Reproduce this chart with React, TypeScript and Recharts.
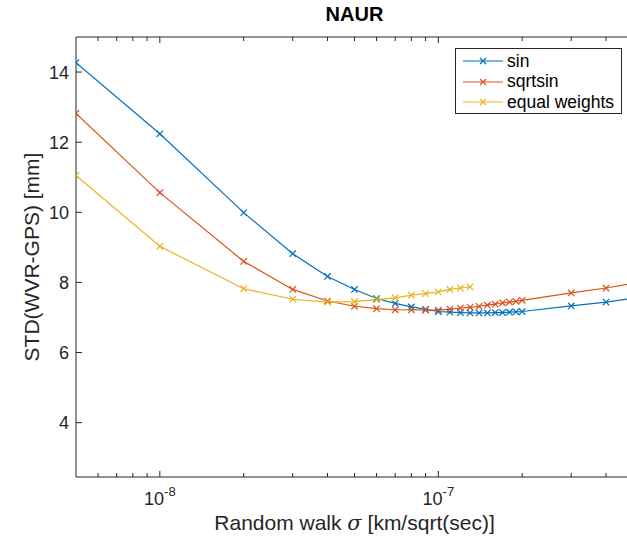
import { LineChart, Line, XAxis, YAxis, Legend } from "recharts";

const FONT = "'Liberation Sans', Arial, Helvetica, sans-serif";
const AXIS = "#262626";

// random walk sigma [km/sqrt(sec)]
const sigma = [
  5e-9, 1e-8, 2e-8, 3e-8, 4e-8, 5e-8, 6e-8, 7e-8, 8e-8, 9e-8, 1e-7, 1.1e-7, 1.2e-7,
  1.3e-7, 1.4e-7, 1.5e-7, 1.6e-7, 1.7e-7, 1.8e-7, 1.9e-7, 2e-7, 3e-7, 4e-7, 5e-7,
];
const sinStd = [
  14.27, 12.24, 9.99, 8.82, 8.17, 7.8, 7.54, 7.4, 7.3, 7.23, 7.17, 7.15, 7.14, 7.13,
  7.13, 7.13, 7.14, 7.14, 7.15, 7.16, 7.17, 7.33, 7.44, 7.55,
];
const sqrtsinStd = [
  12.82, 10.56, 8.6, 7.8, 7.47, 7.32, 7.25, 7.22, 7.22, 7.21, 7.21, 7.24, 7.27, 7.29,
  7.32, 7.35, 7.38, 7.42, 7.44, 7.46, 7.49, 7.7, 7.84, 7.97,
];
// equal weights stops at 1.3e-7
const equalStd = [11.05, 9.03, 7.82, 7.52, 7.44, 7.45, 7.51, 7.56, 7.64, 7.68, 7.73, 7.8, 7.84, 7.87];

const xTicks = [
  6e-9, 7e-9, 8e-9, 9e-9, 1e-8, 2e-8, 3e-8, 4e-8, 5e-8, 6e-8, 7e-8, 8e-8, 9e-8, 1e-7,
  2e-7, 3e-7, 4e-7, 5e-7,
];
const xLabeled: Record<string, string> = { "1e-8": "-8", "1e-7": "-7" };
const yTicks = [4, 6, 8, 10, 12, 14];

const series = [
  { name: "sin", color: "#0072BD", values: sinStd },
  { name: "sqrtsin", color: "#D95319", values: sqrtsinStd },
  { name: "equal weights", color: "#EDB120", values: equalStd },
];

const toRows = (vals: number[]) => vals.map((v, i) => ({ x: sigma[i], y: v }));

const keyOf = (v: number) => v.toExponential().replace("+", "");

const XMark = (props: any) => {
  const { cx, cy, stroke } = props;
  if (cx == null || cy == null) return null;
  const s = 3.2;
  return (
    <path
      d={`M${cx - s},${cy - s}L${cx + s},${cy + s}M${cx - s},${cy + s}L${cx + s},${cy - s}`}
      stroke={stroke}
      strokeWidth={1.2}
      fill="none"
    />
  );
};

const BottomTick = (props: any) => {
  const { x, y, payload } = props;
  const exp = xLabeled[keyOf(payload.value)];
  const len = exp ? 6 : 4;
  return (
    <g>
      <line x1={x} x2={x} y1={y} y2={y - len} stroke={AXIS} />
      {exp && (
        <text x={x} y={y + 28} textAnchor="middle" fill={AXIS} fontFamily={FONT} fontSize={18}>
          10
          <tspan dy={-9} fontSize={13}>
            {exp}
          </tspan>
        </text>
      )}
    </g>
  );
};

const TopTick = (props: any) => {
  const { x, y, payload } = props;
  const len = xLabeled[keyOf(payload.value)] ? 6 : 4;
  return <line x1={x} x2={x} y1={y} y2={y + len} stroke={AXIS} />;
};

const LeftTick = (props: any) => {
  const { x, y, payload } = props;
  return (
    <g>
      <line x1={x} x2={x + 6} y1={y} y2={y} stroke={AXIS} />
      <text x={x - 7} y={y + 6.5} textAnchor="end" fill={AXIS} fontFamily={FONT} fontSize={18}>
        {payload.value}
      </text>
    </g>
  );
};

const RightTick = (props: any) => {
  const { x, y } = props;
  return <line x1={x - 6} x2={x} y1={y} y2={y} stroke={AXIS} />;
};

const LegendBox = () => (
  <div
    style={{
      border: `1px solid ${AXIS}`,
      background: "#fff",
      width: 167,
      height: 66,
      boxSizing: "border-box",
      padding: "2px 0 0 7px",
      fontFamily: FONT,
      fontSize: 17.5,
      color: "#000",
      whiteSpace: "nowrap",
    }}
  >
    {series.map((s) => (
      <div key={s.name} style={{ display: "flex", alignItems: "center", height: 20.5 }}>
        <svg width={40} height={10} style={{ flex: "none" }}>
          <line x1={0} x2={40} y1={5} y2={5} stroke={s.color} strokeWidth={1.2} />
          <path d="M17,2L23,8M17,8L23,2" stroke={s.color} strokeWidth={1.2} />
        </svg>
        <span style={{ marginLeft: 4 }}>{s.name}</span>
      </div>
    ))}
  </div>
);

const XLabel = (props: any) => {
  const { x, width } = props.viewBox;
  return (
    <text x={x + width / 2} y={530} textAnchor="middle" fill={AXIS} fontFamily={FONT} fontSize={21}>
      Random walk{" "}
      <tspan fontFamily="'DejaVu Serif', serif" fontStyle="italic">
        σ
      </tspan>{" "}
      [km/sqrt(sec)]
    </text>
  );
};

const YLabel = (props: any) => {
  const { y, height } = props.viewBox;
  const cy = y + height / 2;
  return (
    <text
      x={39}
      y={cy}
      transform={`rotate(-90, 39, ${cy})`}
      textAnchor="middle"
      fill={AXIS}
      fontFamily={FONT}
      fontSize={21}
    >
      STD(WVR-GPS) [mm]
    </text>
  );
};

export default function App() {
  return (
    <div
      style={{
        position: "absolute",
        left: 0,
        top: 0,
        width: 627,
        height: 538,
        overflow: "hidden",
        background: "#fff",
      }}
    >
      <div
        style={{
          position: "absolute",
          left: 76,
          width: 557,
          top: 3,
          textAlign: "center",
          fontFamily: FONT,
          fontWeight: "bold",
          fontSize: 20,
          color: "#000",
        }}
      >
        NAUR
      </div>
      <LineChart width={660} height={538} margin={{ top: 7, right: 0, bottom: 0, left: 0 }}>
        <XAxis
          xAxisId="b"
          dataKey="x"
          type="number"
          scale="log"
          domain={[5e-9, 5e-7]}
          allowDataOverflow
          ticks={xTicks}
          interval={0}
          tick={<BottomTick />}
          tickLine={false}
          tickSize={0}
          tickMargin={0}
          axisLine={{ stroke: AXIS }}
          height={61}
          label={<XLabel />}
        />
        <XAxis
          xAxisId="t"
          orientation="top"
          dataKey="x"
          type="number"
          scale="log"
          domain={[5e-9, 5e-7]}
          allowDataOverflow
          ticks={xTicks}
          interval={0}
          tick={<TopTick />}
          tickLine={false}
          tickSize={0}
          tickMargin={0}
          axisLine={{ stroke: AXIS }}
          height={30}
        />
        <YAxis
          yAxisId="l"
          type="number"
          domain={[2.45, 15]}
          allowDataOverflow
          ticks={yTicks}
          interval={0}
          tick={<LeftTick />}
          tickLine={false}
          tickSize={0}
          tickMargin={0}
          axisLine={{ stroke: AXIS }}
          width={76}
          label={<YLabel />}
        />
        <YAxis
          yAxisId="r"
          orientation="right"
          type="number"
          domain={[2.45, 15]}
          allowDataOverflow
          ticks={yTicks}
          interval={0}
          tick={<RightTick />}
          tickLine={false}
          tickSize={0}
          tickMargin={0}
          axisLine={{ stroke: AXIS }}
          width={27}
        />
        <Legend
          content={<LegendBox />}
          layout="horizontal"
          verticalAlign="middle"
          align="center"
          wrapperStyle={{ left: 455, top: 48, width: 167, height: 66 }}
        />
        {series.map((s) => (
          <Line
            key={s.name}
            xAxisId="b"
            yAxisId="l"
            data={toRows(s.values)}
            dataKey="y"
            name={s.name}
            stroke={s.color}
            strokeWidth={1.2}
            dot={<XMark />}
            activeDot={false}
            isAnimationActive={false}
          />
        ))}
      </LineChart>
    </div>
  );
}
